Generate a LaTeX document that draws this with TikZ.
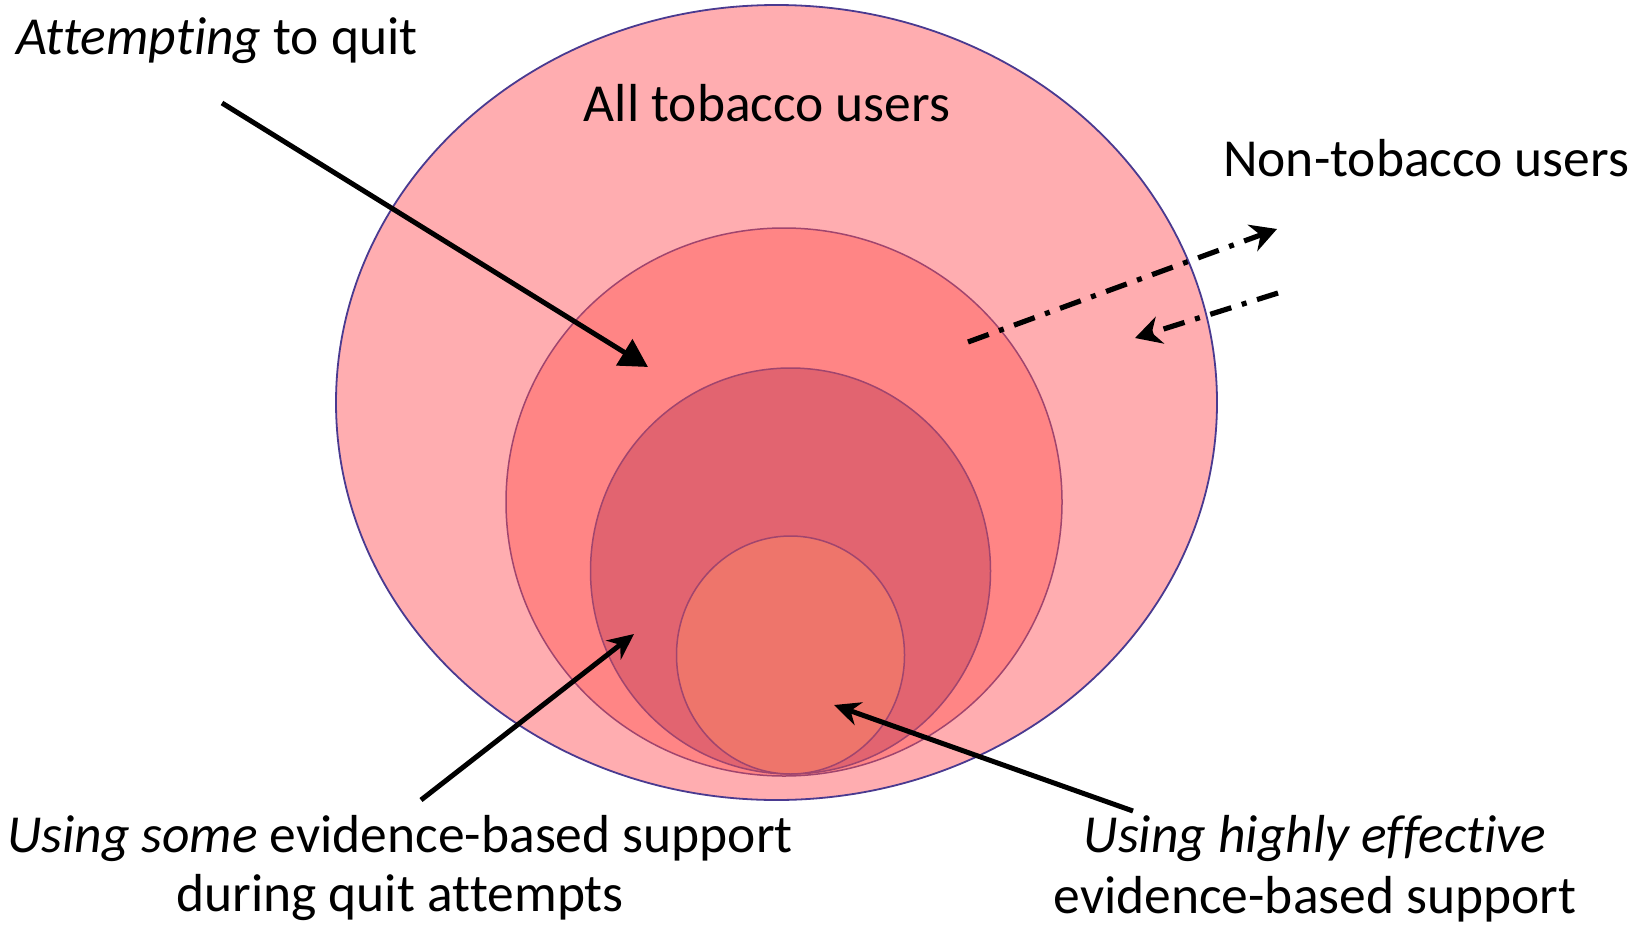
\documentclass[tikz,border=0pt]{standalone}
\usepackage{fontspec}
\setmainfont{Carlito}[Ligatures={NoCommon,NoRare,NoContextual}]
\usetikzlibrary{arrows.meta,shapes.geometric}
\definecolor{outerfill}{HTML}{FFADB0}
\definecolor{outerline}{HTML}{4A3A90}
\definecolor{attfill}{HTML}{FF8585}
\definecolor{somefill}{HTML}{E26470}
\definecolor{highfill}{HTML}{EE756B}
\definecolor{innerline}{HTML}{A0456E}
\newcommand\nolig{\kern0pt{}}
\tikzset{
  ring/.style={ellipse, inner sep=0pt, draw=innerline, line width=1.5pt},
  lbl/.style={inner sep=0pt, font=\fontsize{53.5}{60}\selectfont},
  bigarrow/.style={line width=5pt},
  dd/.style={line width=5.2pt, dash pattern=on 22pt off 11pt on 5pt off 11pt, -{Stealth[length=26pt,width=28pt]}}
}
\begin{document}
\begin{tikzpicture}[x=1pt,y=-1pt]
\useasboundingbox (0,0) rectangle (1645,926);
% ellipses
\node[ring, draw=outerline, line width=1.8pt, fill=outerfill, minimum width=881pt, minimum height=795pt] (all) at (776.5,402.5) {};
\node[ring, fill=attfill, minimum width=556pt, minimum height=548pt] (att) at (784,502) {};
\node[ring, fill=somefill, minimum width=400pt, minimum height=406pt] (some) at (790.5,571) {};
\node[ring, fill=highfill, minimum width=228pt, minimum height=238pt] (high) at (790.5,655) {};
% labels
\node[lbl, anchor=base west] (attlbl) at (16,54) {\textit{At\nolig tempt\nolig ing} to quit};
\node[lbl, anchor=base] (alllbl) at (767,121) {All tobacco users};
\node[lbl, anchor=base west] (nonlbl) at (1223,176) {Non-tobacco users};
\node[lbl, anchor=base] (somelblA) at (400,852) {\textit{Using some} evidence-based support};
\node[lbl, anchor=base] (somelblB) at (400,911) {during quit at\nolig tempts};
\node[lbl, anchor=base] (highlblA) at (1315,852) {\textit{Using highly ef\nolig fect\nolig ive}};
\node[lbl, anchor=base] (highlblB) at (1315,913) {evidence-based support};
% arrow end points
\coordinate (a1s) at (222,103); \coordinate (a1e) at (648,367);
\coordinate (a2s) at (421,800); \coordinate (a2e) at (634,634);
\coordinate (a3s) at (1133,811); \coordinate (a3e) at (834,705);
\coordinate (d1s) at (968,342); \coordinate (d1e) at (1277,229);
\coordinate (d2s) at (1278,293); \coordinate (d2e) at (1135,338);
\draw[bigarrow, -{Triangle[length=28pt,width=30pt]}] (a1s) -- (a1e);
\draw[bigarrow, -{Stealth[length=26pt,width=24pt]}] (a2s) -- (a2e);
\draw[bigarrow, -{Stealth[length=26pt,width=24pt]}] (a3s) -- (a3e);
\draw[dd] (d1s) -- (d1e);
\draw[dd] (d2s) -- (d2e);
\end{tikzpicture}
\end{document}
